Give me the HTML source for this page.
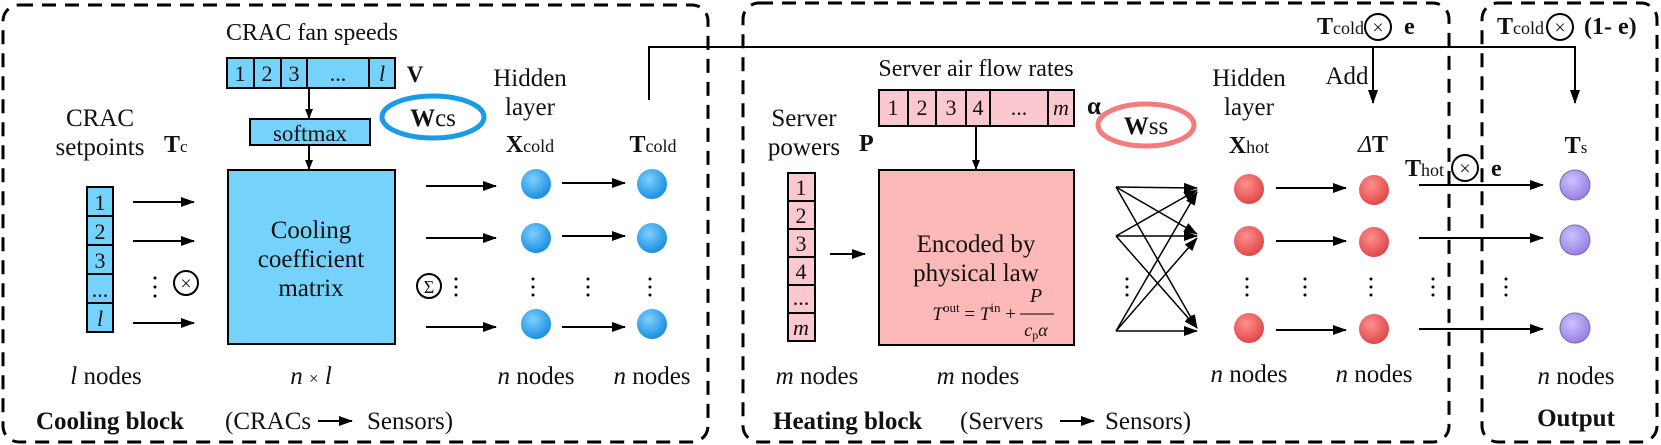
<!DOCTYPE html>
<html><head><meta charset="utf-8"><style>
html,body{margin:0;padding:0;background:#fff;}
svg{display:block;font-family:"Liberation Serif","DejaVu Serif","Times New Roman",serif;}
svg text{font-family:"Liberation Serif","DejaVu Serif","Times New Roman",serif;fill:#111;}
.b{font-weight:bold;}
.i{font-style:italic;}
</style></head><body>
<svg width="1661" height="445" viewBox="0 0 1661 445" xmlns="http://www.w3.org/2000/svg" font-family="Liberation Serif, DejaVu Serif, serif">
<defs>
<marker id="ah" markerWidth="10" markerHeight="8" refX="9" refY="4" orient="auto" markerUnits="userSpaceOnUse"><path d="M0,0 L10,4 L0,8 Z" fill="#000"/></marker>
<marker id="ahs" markerWidth="14" markerHeight="10" refX="13" refY="5" orient="auto" markerUnits="userSpaceOnUse"><path d="M0,0 L14,5 L0,10 Z" fill="#000"/></marker>
<radialGradient id="gb" cx="40%" cy="35%" r="65%"><stop offset="0" stop-color="#7fd0ff"/><stop offset="1" stop-color="#1a8fe0"/></radialGradient>
<radialGradient id="gr" cx="40%" cy="35%" r="65%"><stop offset="0" stop-color="#ff8f8f"/><stop offset="1" stop-color="#e04848"/></radialGradient>
<radialGradient id="gp" cx="40%" cy="35%" r="65%"><stop offset="0" stop-color="#c9c2ff"/><stop offset="1" stop-color="#9a80e0"/></radialGradient>
</defs>
<g fill="none" stroke="#000" stroke-width="3" stroke-dasharray="14,9">
<rect x="3" y="5" width="705" height="437" rx="16"/>
<rect x="743" y="3" width="706" height="439" rx="16"/>
<rect x="1482" y="3" width="175" height="439" rx="16"/>
</g>

<g stroke="#000" stroke-width="2" fill="none">
<polyline points="649,100 649,47 1575,47 1575,103" marker-end="url(#ahs)"/>
<line x1="1373" y1="47" x2="1373" y2="103" marker-end="url(#ahs)"/>
</g>

<!-- Cooling block -->
<text x="312" y="40" font-size="24" text-anchor="middle">CRAC fan speeds</text>
<g stroke="#000" stroke-width="2" fill="#74d2fb">
<rect x="227" y="58" width="168" height="30"/>
<rect x="250" y="119" width="120" height="26"/>
<rect x="228" y="170" width="167" height="174"/>
<rect x="87" y="187" width="26" height="145"/>
</g>
<g stroke="#000" stroke-width="2">
<line x1="254" y1="58" x2="254" y2="88"/><line x1="281" y1="58" x2="281" y2="88"/><line x1="307" y1="58" x2="307" y2="88"/><line x1="369" y1="58" x2="369" y2="88"/>
<line x1="87" y1="216" x2="113" y2="216"/><line x1="87" y1="245" x2="113" y2="245"/><line x1="87" y1="274" x2="113" y2="274"/><line x1="87" y1="303" x2="113" y2="303"/>
</g>
<g font-size="22" text-anchor="middle">
<text x="240" y="81">1</text><text x="267" y="81">2</text><text x="294" y="81">3</text><text x="338" y="81">...</text><text x="382" y="81" class="i">l</text>
<text x="100" y="210">1</text><text x="100" y="239">2</text><text x="100" y="268">3</text><text x="100" y="297">...</text><text x="100" y="326" class="i">l</text>
</g>
<text x="415" y="82" font-size="23" class="b" text-anchor="middle">V</text>
<text x="310" y="141" font-size="23" text-anchor="middle">softmax</text>
<g stroke="#000" stroke-width="2" fill="none">
<line x1="309" y1="88" x2="309" y2="118" marker-end="url(#ah)"/>
<line x1="309" y1="145" x2="309" y2="169" marker-end="url(#ah)"/>
</g>
<g font-size="25" text-anchor="middle">
<text x="311" y="238">Cooling</text><text x="311" y="267">coefficient</text><text x="311" y="296">matrix</text>
</g>
<ellipse cx="433" cy="117" rx="51" ry="21" fill="none" stroke="#1a9be8" stroke-width="5"/>
<text x="433" y="126" font-size="25" text-anchor="middle"><tspan class="b">W</tspan>cs</text>
<text x="530" y="86" font-size="25" text-anchor="middle">Hidden</text>
<text x="530" y="115" font-size="25" text-anchor="middle">layer</text>
<text x="530" y="152" font-size="24" text-anchor="middle"><tspan class="b">X</tspan><tspan font-size="18">cold</tspan></text>
<text x="653" y="152" font-size="24" text-anchor="middle"><tspan class="b">T</tspan><tspan font-size="18">cold</tspan></text>
<text x="100" y="126" font-size="25" text-anchor="middle">CRAC</text>
<text x="100" y="155" font-size="25" text-anchor="middle">setpoints</text>
<text x="164" y="152" font-size="24"><tspan class="b">T</tspan><tspan font-size="17">c</tspan></text>
<g stroke="#000" stroke-width="2" fill="none">
<line x1="133" y1="202" x2="194" y2="202" marker-end="url(#ahs)"/>
<line x1="133" y1="241" x2="194" y2="241" marker-end="url(#ahs)"/>
<line x1="133" y1="323" x2="194" y2="323" marker-end="url(#ahs)"/>
<circle cx="186" cy="283" r="12"/>
<circle cx="429" cy="286" r="12"/>
<line x1="426" y1="186" x2="496" y2="186" marker-end="url(#ahs)"/>
<line x1="426" y1="238" x2="496" y2="238" marker-end="url(#ahs)"/>
<line x1="426" y1="327" x2="496" y2="327" marker-end="url(#ahs)"/>
<line x1="562" y1="183" x2="625" y2="183" marker-end="url(#ahs)"/>
<line x1="562" y1="236" x2="625" y2="236" marker-end="url(#ahs)"/>
<line x1="562" y1="327" x2="625" y2="327" marker-end="url(#ahs)"/>
</g>
<text x="186" y="290" font-size="20" text-anchor="middle">×</text>
<text x="429" y="293" font-size="18" text-anchor="middle">Σ</text>
<g fill="#000">
<circle cx="155" cy="278" r="1.5"/><circle cx="155" cy="287" r="1.5"/><circle cx="155" cy="296" r="1.5"/>
<circle cx="456" cy="279" r="1.5"/><circle cx="456" cy="287" r="1.5"/><circle cx="456" cy="295" r="1.5"/>
<circle cx="533" cy="279" r="1.5"/><circle cx="533" cy="287" r="1.5"/><circle cx="533" cy="295" r="1.5"/>
<circle cx="588" cy="279" r="1.5"/><circle cx="588" cy="287" r="1.5"/><circle cx="588" cy="295" r="1.5"/>
<circle cx="650" cy="279" r="1.5"/><circle cx="650" cy="287" r="1.5"/><circle cx="650" cy="295" r="1.5"/>
</g>
<g fill="url(#gb)">
<circle cx="536" cy="184" r="15"/><circle cx="536" cy="238" r="15"/><circle cx="536" cy="324" r="15"/>
<circle cx="652" cy="184" r="15"/><circle cx="652" cy="238" r="15"/><circle cx="652" cy="324" r="15"/>
</g>
<g font-size="25" text-anchor="middle">
<text x="106" y="384"><tspan class="i">l</tspan> nodes</text>
<text x="311" y="384"><tspan class="i">n</tspan> <tspan font-size="17">×</tspan> <tspan class="i">l</tspan></text>
<text x="536" y="384"><tspan class="i">n</tspan> nodes</text>
<text x="652" y="384"><tspan class="i">n</tspan> nodes</text>
</g>
<text x="36" y="429" font-size="25" class="b">Cooling block</text>
<text x="225" y="429" font-size="25">(CRACs</text>
<line x1="318" y1="421" x2="352" y2="421" stroke="#000" stroke-width="2" marker-end="url(#ahs)"/>
<text x="367" y="429" font-size="25">Sensors)</text>

<!-- Heating block -->
<text x="976" y="76" font-size="24" text-anchor="middle">Server air flow rates</text>
<g stroke="#000" stroke-width="2" fill="#fbc8cf">
<rect x="879" y="90" width="195" height="36"/>
<rect x="788" y="173" width="27" height="168"/>
</g>
<rect x="879" y="170" width="195" height="175" fill="#fdb8b8" stroke="#000" stroke-width="2"/>
<g stroke="#000" stroke-width="2">
<line x1="908" y1="90" x2="908" y2="126"/><line x1="936" y1="90" x2="936" y2="126"/><line x1="966" y1="90" x2="966" y2="126"/><line x1="990" y1="90" x2="990" y2="126"/><line x1="1048" y1="90" x2="1048" y2="126"/>
<line x1="788" y1="201" x2="815" y2="201"/><line x1="788" y1="229" x2="815" y2="229"/><line x1="788" y1="257" x2="815" y2="257"/><line x1="788" y1="285" x2="815" y2="285"/><line x1="788" y1="313" x2="815" y2="313"/>
</g>
<g font-size="22" text-anchor="middle">
<text x="893" y="115">1</text><text x="922" y="115">2</text><text x="951" y="115">3</text><text x="978" y="115">4</text><text x="1019" y="115">...</text><text x="1061" y="115" class="i">m</text>
<text x="801" y="195">1</text><text x="801" y="223">2</text><text x="801" y="251">3</text><text x="801" y="279">4</text><text x="801" y="305">...</text><text x="801" y="335" class="i">m</text>
</g>
<text x="1094" y="114" font-size="25" class="b" text-anchor="middle">α</text>
<line x1="976" y1="126" x2="976" y2="169" stroke="#000" stroke-width="2" marker-end="url(#ah)"/>
<text x="976" y="252" font-size="25" text-anchor="middle">Encoded by</text>
<text x="976" y="281" font-size="25" text-anchor="middle">physical law</text>
<text x="1016" y="320" font-size="19" class="i" text-anchor="end">T<tspan font-size="13" font-style="normal" dy="-8">out</tspan><tspan font-style="normal" dy="8"> = </tspan>T<tspan font-size="13" font-style="normal" dy="-8">in</tspan><tspan font-style="normal" dy="8"> +</tspan></text>
<text x="1036" y="302" font-size="20" class="i" text-anchor="middle">P</text>
<line x1="1020" y1="314" x2="1054" y2="314" stroke="#000" stroke-width="1"/>
<text x="1036" y="336" font-size="18" class="i" text-anchor="middle">c<tspan font-size="12" font-style="normal" dy="3">p</tspan><tspan dy="-3">α</tspan></text>
<ellipse cx="1146" cy="125" rx="48" ry="21" fill="none" stroke="#f47c7c" stroke-width="5"/>
<text x="1146" y="134" font-size="25" text-anchor="middle"><tspan class="b">W</tspan>ss</text>
<text x="804" y="126" font-size="25" text-anchor="middle">Server</text>
<text x="804" y="155" font-size="25" text-anchor="middle">powers</text>
<text x="859" y="151" font-size="24" class="b">P</text>
<line x1="830" y1="254" x2="865" y2="254" stroke="#000" stroke-width="2" marker-end="url(#ahs)"/>
<g stroke="#000" stroke-width="1.5" fill="none">
<line x1="1116" y1="187" x2="1197" y2="188" marker-end="url(#ahs)"/>
<line x1="1116" y1="187" x2="1197" y2="234" marker-end="url(#ahs)"/>
<line x1="1116" y1="187" x2="1197" y2="328" marker-end="url(#ahs)"/>
<line x1="1116" y1="236" x2="1197" y2="190" marker-end="url(#ahs)"/>
<line x1="1116" y1="236" x2="1197" y2="236" marker-end="url(#ahs)"/>
<line x1="1116" y1="236" x2="1197" y2="328" marker-end="url(#ahs)"/>
<line x1="1116" y1="331" x2="1197" y2="192" marker-end="url(#ahs)"/>
<line x1="1116" y1="331" x2="1197" y2="238" marker-end="url(#ahs)"/>
<line x1="1116" y1="331" x2="1197" y2="331" marker-end="url(#ahs)"/>
<line x1="1276" y1="188" x2="1346" y2="188" stroke-width="2" marker-end="url(#ahs)"/>
<line x1="1276" y1="241" x2="1346" y2="241" stroke-width="2" marker-end="url(#ahs)"/>
<line x1="1276" y1="330" x2="1346" y2="330" stroke-width="2" marker-end="url(#ahs)"/>
</g>
<g fill="#000">
<circle cx="1127" cy="279" r="1.5"/><circle cx="1127" cy="287" r="1.5"/><circle cx="1127" cy="295" r="1.5"/>
<circle cx="1247" cy="279" r="1.5"/><circle cx="1247" cy="287" r="1.5"/><circle cx="1247" cy="295" r="1.5"/>
<circle cx="1305" cy="279" r="1.5"/><circle cx="1305" cy="287" r="1.5"/><circle cx="1305" cy="295" r="1.5"/>
<circle cx="1371" cy="279" r="1.5"/><circle cx="1371" cy="287" r="1.5"/><circle cx="1371" cy="295" r="1.5"/>
<circle cx="1433" cy="279" r="1.5"/><circle cx="1433" cy="287" r="1.5"/><circle cx="1433" cy="295" r="1.5"/>
<circle cx="1506" cy="279" r="1.5"/><circle cx="1506" cy="287" r="1.5"/><circle cx="1506" cy="295" r="1.5"/>
</g>
<g fill="url(#gr)">
<circle cx="1249" cy="189" r="15"/><circle cx="1249" cy="241" r="15"/><circle cx="1249" cy="328" r="15"/>
<circle cx="1374" cy="190" r="15"/><circle cx="1374" cy="242" r="15"/><circle cx="1374" cy="329" r="15"/>
</g>
<text x="1249" y="86" font-size="25" text-anchor="middle">Hidden</text>
<text x="1249" y="115" font-size="25" text-anchor="middle">layer</text>
<text x="1249" y="153" font-size="24" text-anchor="middle"><tspan class="b">X</tspan><tspan font-size="18">hot</tspan></text>
<text x="1347" y="84" font-size="25" text-anchor="middle">Add</text>
<text x="1373" y="152" font-size="24" text-anchor="middle"><tspan class="i">Δ</tspan><tspan class="b">T</tspan></text>
<text x="1317" y="34" font-size="24"><tspan class="b">T</tspan><tspan font-size="18">cold</tspan></text>
<circle cx="1378" cy="27" r="13" fill="none" stroke="#000" stroke-width="2"/>
<text x="1378" y="34" font-size="20" text-anchor="middle">×</text>
<text x="1404" y="34" font-size="24" class="b">e</text>
<g font-size="25" text-anchor="middle">
<text x="817" y="384"><tspan class="i">m</tspan> nodes</text>
<text x="978" y="384"><tspan class="i">m</tspan> nodes</text>
<text x="1249" y="382"><tspan class="i">n</tspan> nodes</text>
<text x="1374" y="382"><tspan class="i">n</tspan> nodes</text>
</g>
<text x="773" y="429" font-size="25" class="b">Heating block</text>
<text x="960" y="429" font-size="25">(Servers</text>
<line x1="1060" y1="421" x2="1094" y2="421" stroke="#000" stroke-width="2" marker-end="url(#ahs)"/>
<text x="1105" y="429" font-size="25">Sensors)</text>

<!-- Output -->
<text x="1497" y="34" font-size="24"><tspan class="b">T</tspan><tspan font-size="18">cold</tspan></text>
<circle cx="1560" cy="27" r="13" fill="none" stroke="#000" stroke-width="2"/>
<text x="1560" y="34" font-size="20" text-anchor="middle">×</text>
<text x="1584" y="34" font-size="24" class="b">(1- e)</text>
<text x="1576" y="153" font-size="24" text-anchor="middle"><tspan class="b">T</tspan><tspan font-size="17">s</tspan></text>
<text x="1405" y="176" font-size="24"><tspan class="b">T</tspan><tspan font-size="18">hot</tspan></text>
<circle cx="1465" cy="168" r="13" fill="none" stroke="#000" stroke-width="2"/>
<text x="1465" y="175" font-size="20" text-anchor="middle">×</text>
<text x="1491" y="176" font-size="24" class="b">e</text>
<g stroke="#000" stroke-width="2" fill="none">
<line x1="1419" y1="185" x2="1543" y2="185" marker-end="url(#ahs)"/>
<line x1="1419" y1="238" x2="1543" y2="238" marker-end="url(#ahs)"/>
<line x1="1419" y1="329" x2="1543" y2="329" marker-end="url(#ahs)"/>
</g>
<g fill="url(#gp)" stroke="#7a6aa8" stroke-width="1">
<circle cx="1575" cy="185" r="15"/><circle cx="1575" cy="240" r="15"/><circle cx="1575" cy="328" r="15"/>
</g>
<text x="1576" y="384" font-size="25" text-anchor="middle"><tspan class="i">n</tspan> nodes</text>
<text x="1576" y="426" font-size="25" class="b" text-anchor="middle">Output</text>
</svg>
</body></html>
